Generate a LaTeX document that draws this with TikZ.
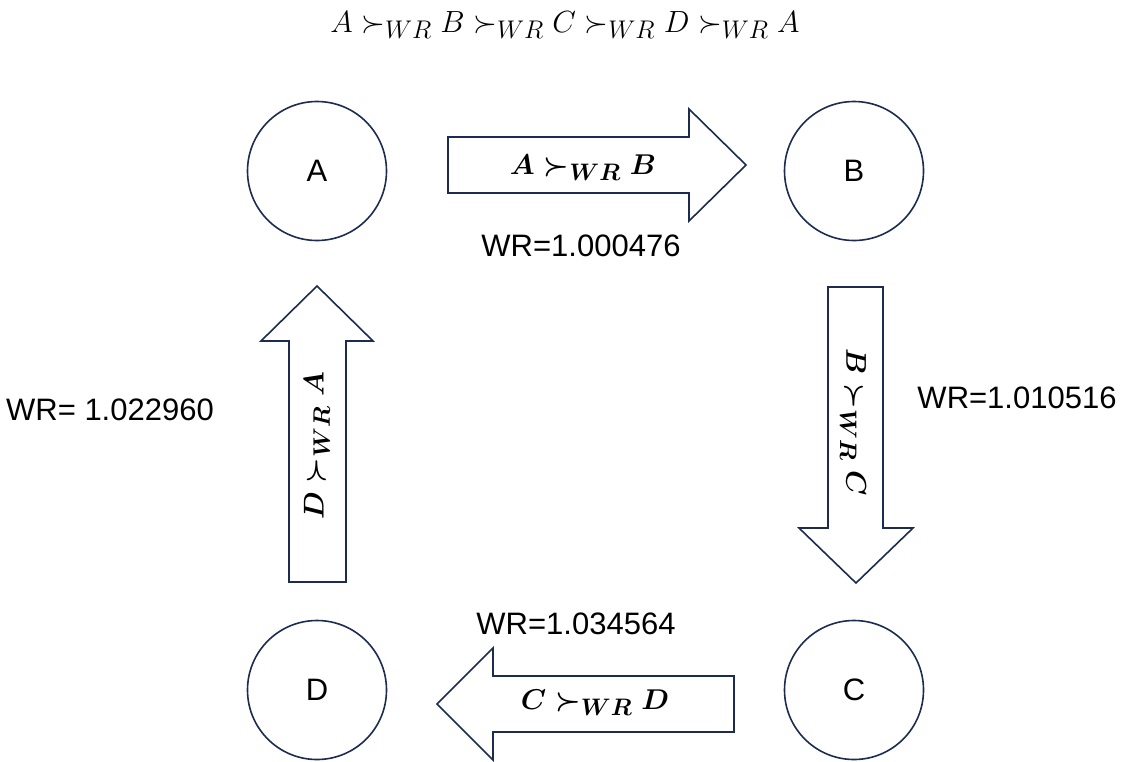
\documentclass[tikz,border=0pt]{standalone}
\usepackage{amsmath}
\usepackage{fontspec}
\setmainfont{Liberation Sans}
\definecolor{navy}{HTML}{1C2B4F}
\newcommand{\bsm}[1]{\ensuremath{\boldsymbol{#1}}}
\begin{document}
\begin{tikzpicture}[x=1pt,y=-1pt,
  circ/.style={draw=navy,line width=1.6pt,circle,minimum size=139pt,inner sep=0pt,
    font=\fontsize{31}{36}\selectfont},
  blk/.style={draw=navy,line width=1.6pt,line join=miter,fill=white},
  wrlabel/.style={font=\fontsize{31}{36}\selectfont,inner sep=0pt},
  armlabel/.style={inner sep=0pt,font=\fontsize{24.88}{30}\selectfont,scale=1.15}]
\useasboundingbox (0,0) rectangle (1121,761);
% title
\node[inner sep=0pt,font=\fontsize{24.88}{30}\selectfont,scale=1.23] (title) at (565,25) {$A \succ_{WR} B \succ_{WR} C \succ_{WR} D \succ_{WR} A$};
% circles
\node[circ] (A) at (317,171) {A};
\node[circ] (B) at (854,171) {B};
\node[circ] (C) at (854,690) {C};
\node[circ] (D) at (317,690) {D};
% block arrows
\draw[blk] (448,137) -- (689,137) -- (689,109) -- (746,165) -- (689,221) -- (689,193) -- (448,193) -- cycle;
\draw[blk] (828,287) -- (883,287) -- (883,528) -- (913,528) -- (856,583) -- (799,528) -- (828,528) -- cycle;
\draw[blk] (734,676) -- (493,676) -- (493,648) -- (437,704) -- (493,760) -- (493,732) -- (734,732) -- cycle;
\draw[blk] (289,582) -- (289,341) -- (261,341) -- (317,286) -- (373,341) -- (346,341) -- (346,582) -- cycle;
% arrow labels
\node[armlabel] (labAB) at (583,168) {\bsm{A \succ_{WR} B}};
\node[armlabel,rotate=-90] (labBC) at (853,422) {\bsm{B \succ_{WR} C}};
\node[armlabel] (labCD) at (595,703) {\bsm{C \succ_{WR} D}};
\node[armlabel,rotate=90] (labDA) at (317,446) {\bsm{D \succ_{WR} A}};
% WR values
\node[wrlabel] (w1) at (581,246) {WR=1.000476};
\node[wrlabel] (w2) at (1017,398) {WR=1.010516};
\node[wrlabel] (w3) at (576,624) {WR=1.034564};
\node[wrlabel] (w4) at (110,410) {WR= 1.022960};
\end{tikzpicture}
\end{document}
